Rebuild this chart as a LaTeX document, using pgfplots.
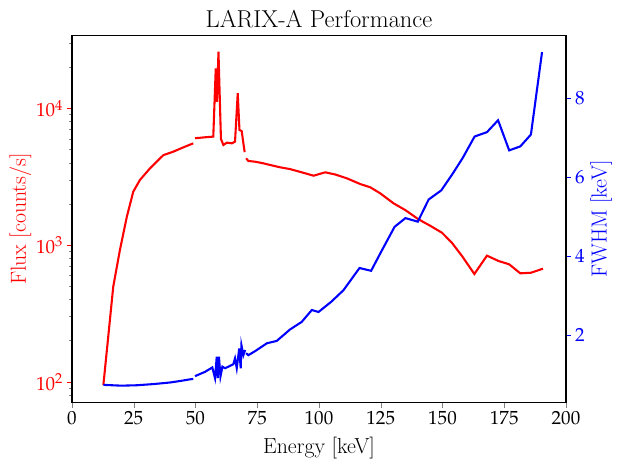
\documentclass[border=0pt]{standalone}
\usepackage{mathpazo}
\usepackage{pgfplots}
\pgfplotsset{compat=1.18}
\pgfplotsset{
  common/.style={
    scale only axis, width=355.68pt, height=264.38pt, at={(0,0)}, anchor=south west,
    xmin=0, xmax=200, tick align=outside,
    major tick length=3.5pt, minor tick length=2pt,
    line width=0.8pt,
    every minor tick/.append style={line width=0.6pt},
    tick label style={font=\fontsize{13.7}{16}\selectfont, inner sep=0pt, outer sep=3pt},
  },
}
\begin{document}
\begin{tikzpicture}
\useasboundingbox (-51.84pt,-47.74pt) rectangle (396pt,289.94pt);
\begin{axis}[common,
  ymode=log, ymin=70.6, ymax=34270,
  xtick={0,25,...,200}, xtick pos=left, ytick pos=left,
  ytick={100,1000,10000},
  minor ytick={80,90,200,300,400,500,600,700,800,900,2000,3000,4000,5000,6000,7000,8000,9000,20000,30000},
  yticklabel style={red},
  every major y tick/.append style={red},
  xlabel={Energy [keV]}, ylabel={Flux [counts/s]},
  every axis x label/.style={at={(axis description cs:0.5,-0.1383)}, anchor=base, font=\fontsize{15.7}{18}\selectfont},
  every axis y label/.style={at={(axis description cs:-0.0933,0.5)}, anchor=base, rotate=90, red, font=\fontsize{15.7}{18}\selectfont},
  title={LARIX-A Performance},
  every axis title/.style={at={(axis description cs:0.5,1.0215)}, anchor=base, font=\fontsize{17.6}{20}\selectfont},
]
\addplot[red, line width=1.5pt] coordinates {
(12.7,95) (14.7,217) (16.7,498) (19.4,925) (22.2,1617) (24.8,2466) (27.5,3006) (31.6,3660) (37,4570) (41,4840) (45.1,5210) (49.1,5570)
};
\addplot[red, line width=1.5pt] coordinates {
(49.8,6070) (53.9,6170) (57.2,6240) (58.2,19720) (58.7,11220) (59.3,26060) (60.3,6000) (61.3,5420) (62.7,5640) (64.7,5570) (66,5730) (67.1,12950) (67.8,6970) (68.7,6850) (69.9,4800)
};
\addplot[red, line width=1.5pt] coordinates {
(70.5,4330) (71.4,4140) (74.1,4090) (77.5,3980) (78.9,3920) (84.3,3720) (88.3,3610) (93,3420) (97.8,3230) (102.5,3420) (106.5,3300) (111.3,3090) (116.7,2807) (120.8,2655) (124.8,2400) (130.2,2028) (134.9,1812) (140.3,1549) (145,1391) (149.8,1236) (153.8,1044) (157.9,835) (162.9,617) (168,840) (172.7,768) (177,726) (181.5,624) (185.8,630) (190.7,675)
};
\end{axis}
\begin{axis}[common,
  ymin=0.30, ymax=9.57,
  axis y line*=right, axis x line=none, y axis line style={-},
  ytick={2,4,6,8},
  yticklabel style={blue},
  every major y tick/.append style={blue},
  ylabel={FWHM [keV]},
  every axis y label/.style={at={(axis description cs:1.082,0.5)}, anchor=base, rotate=90, blue, font=\fontsize{15.7}{18}\selectfont},
]
\addplot[blue, line width=1.5pt] coordinates {
(12.7,0.75) (20,0.73) (26.2,0.74) (33,0.77) (39.7,0.81) (44,0.85) (47.8,0.89) (49.1,0.90)
};
\addplot[blue, line width=1.5pt] coordinates {
(49.8,0.97) (53.9,1.08) (56.8,1.19) (57.9,0.92) (58.6,1.46) (59.0,0.92) (59.5,1.46) (60.1,0.96) (60.9,1.21) (62,1.17) (65.3,1.27) (66,1.42) (66.7,1.17) (67.7,1.67) (68.3,1.17) (68.6,1.75) (69.4,1.50) (70.1,1.63)
};
\addplot[blue, line width=1.5pt] coordinates {
(70.5,1.55) (71.4,1.50) (74.1,1.60) (78.9,1.80) (82.9,1.86) (88.3,2.15) (93,2.34) (97.1,2.64) (99.8,2.59) (105,2.85) (109.9,3.14) (116.4,3.70) (121.1,3.63) (125.5,4.15) (130.6,4.74) (135,4.96) (140,4.87) (144.4,5.43) (149.5,5.66) (154,6.07) (158.2,6.48) (163,7.02) (168,7.13) (172.5,7.43) (177,6.67) (181.5,6.77) (185.8,7.07) (190.3,9.15)
};
\end{axis}
\end{tikzpicture}
\end{document}
